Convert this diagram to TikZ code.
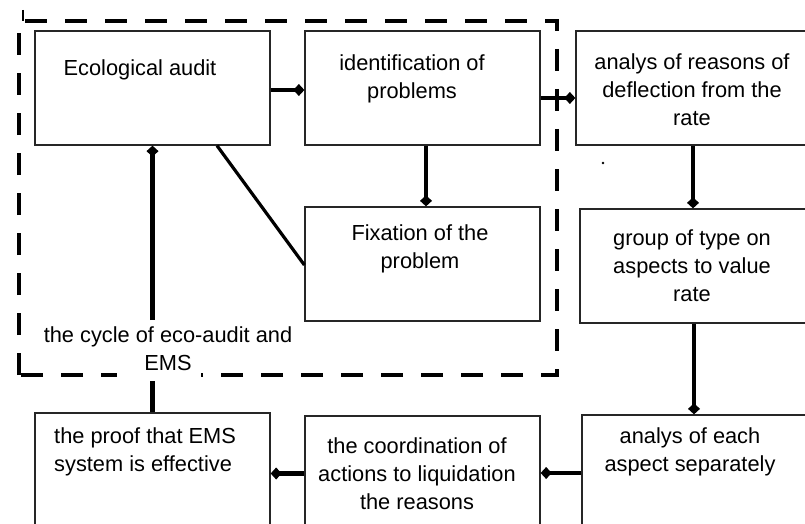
\documentclass[tikz,border=0pt]{standalone}
\usepackage{fontspec}
\setmainfont{Liberation Sans}
\usetikzlibrary{arrows.meta}
\begin{document}
\begin{tikzpicture}[x=1pt,y=-1pt,
  box/.style={draw=black!85,line width=1.3pt,rectangle,inner sep=0pt,fill=none},
  lbl/.style={align=center,inner sep=0pt,font=\fontsize{21.8}{28}\selectfont,text=black},
  conn/.style={line width=4.5pt,-{Diamond[length=11pt,width=12pt]}},
  plain/.style={line width=4.5pt},
  frame/.style={line width=4.5pt,dash pattern=on 22pt off 18pt}
]
\useasboundingbox (0,0) rectangle (805,524);
\clip (0,0) rectangle (805,524);
% boxes
\node[box,minimum width=235pt,minimum height=114pt] (eco)    at (152.5,88) {};
\node[box,minimum width=235pt,minimum height=114pt] (ident)  at (422.5,88) {};
\node[box,minimum width=260pt,minimum height=114pt] (analys) at (706,88) {};
\node[box,minimum width=235pt,minimum height=114pt] (fix)    at (422.5,264) {};
\node[box,minimum width=260pt,minimum height=114pt] (group)  at (710,266) {};
\node[box,minimum width=260pt,minimum height=125pt] (each)   at (712,477.5) {};
\node[box,minimum width=235pt,minimum height=124pt] (coord)  at (422.5,478) {};
\node[box,minimum width=235pt,minimum height=127pt] (proof)  at (152.5,476.5) {};
% dashed frame
\draw[frame] (19,375) -- (19,21) -- (557,21) -- (557,375) -- cycle;
\fill[white] (117,366) rectangle (201,382);
\draw[line width=1.3pt] (23,10) -- (23,21);
% labels
\node[lbl] (ecoT)    at (140,70)  {Ecological audit};
\node[lbl] (identT)  at (412,79)  {identification of\\problems};
\node[lbl] (analysT) at (692,89.5) {analys of reasons of\\deflection from the\\rate};
\node[lbl] (fixT)    at (420,249) {Fixation of the\\problem};
\node[lbl] (groupT)  at (692,266) {group of type on\\aspects to value\\rate};
\node[lbl] (cycleT)  at (168,348.5) {the cycle of eco-audit and\\EMS};
\node[lbl,align=left,anchor=west] (proofT) at (54,452) {the proof that EMS\\system is effective};
\node[lbl] (coordT)  at (417,474) {the coordination of\\actions to liquidation\\the reasons};
\node[lbl] (eachT)   at (690,452) {analys of each\\aspect separately};
% connectors
\draw[conn] ([yshift=-2pt]eco.east) -- ([yshift=-2pt]ident.west);
\draw[conn] ([yshift=-10pt]ident.east) -- ([yshift=-10pt]analys.west);
\draw[conn] ([xshift=3.5pt]ident.south) -- ([xshift=3.5pt]ident.south |- fix.north);
\draw[line width=3.2pt] ([xshift=64.5pt]eco.south) -- ([yshift=-1pt]fix.west);
\draw[conn] ([xshift=-13pt]analys.south) -- ([xshift=-13pt]analys.south |- group.north);
\draw[conn] ([xshift=-16pt]group.south) -- ([xshift=-16pt]group.south |- each.north);
\draw[conn] ([yshift=4.5pt]each.west) -- ([yshift=4.5pt]each.west -| coord.east);
\draw[conn] ([yshift=4.5pt]coord.west) -- ([yshift=4.5pt]coord.west -| proof.east);
\coordinate (c1) at (152.5,381);
\coordinate (c2) at (152.5,320);
\draw[plain] (proof.north) -- (c1);
\draw[conn] (c2) -- (eco.south);
\fill (603,163) circle (1.3pt);
\end{tikzpicture}
\end{document}
